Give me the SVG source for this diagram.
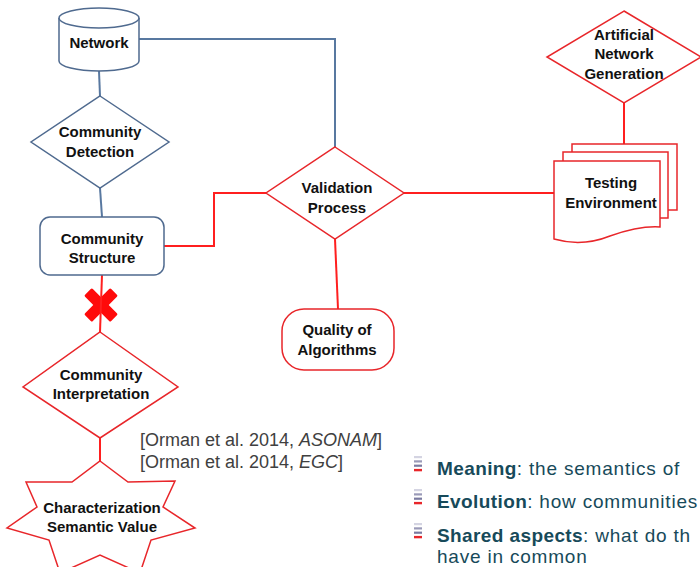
<svg xmlns="http://www.w3.org/2000/svg" width="700" height="567" viewBox="0 0 700 567">
  <style>
    .blue { fill: #ffffff; stroke: #4f6a8f; stroke-width: 1.5; }
    .red { fill: #ffffff; stroke: #e8262a; stroke-width: 1.5; }
    .wire-blue { fill: none; stroke: #5878a0; stroke-width: 2; }
    .wire-red { fill: none; stroke: #ff1f1f; stroke-width: 2; }
    .lbl { font-family: "Liberation Sans", Arial, sans-serif; font-weight: bold; font-size: 15px; fill: #111111; text-anchor: middle; }
    .cite { font-family: "Liberation Sans", Arial, sans-serif; font-size: 18px; fill: #404040; }
    .item { font-family: "Liberation Sans", Arial, sans-serif; font-size: 19px; letter-spacing: 0.8px; fill: #174a5a; }
    .item tspan.b { font-weight: bold; letter-spacing: 0.4px; }
  </style>
  <defs>
    <g id="bullet">
      <rect x="0" y="0" width="8" height="2.2" fill="#d4d4e2"/>
      <rect x="0" y="4.3" width="8" height="2.2" fill="#9a9ab8"/>
      <rect x="0" y="8.6" width="8" height="2.2" fill="#7a7aa0"/>
      <rect x="0" y="12.9" width="8" height="2.4" fill="#e8262a"/>
    </g>
  </defs>

  <!-- rejection mark on the structure -> interpretation link -->
  <g id="reject-mark" fill="#ff0a0a">
    <rect x="82.5" y="299.5" width="37" height="11" rx="1.5" transform="rotate(45 101 305)"/>
    <rect x="82.5" y="299.5" width="37" height="11" rx="1.5" transform="rotate(-45 101 305)"/>
  </g>

  <g id="connectors">
    <path class="wire-blue" d="M99,71 L100,96"/>
    <path class="wire-blue" d="M139,39 H335 V147"/>
    <path class="wire-blue" d="M100,188 L102,217"/>
    <path class="wire-red" d="M164,246 H214 V193 H266"/>
    <path class="wire-red" d="M404,193 H554"/>
    <path class="wire-red" d="M624,103 V144"/>
    <path class="wire-red" d="M335,239 L338,309"/>
    <path class="wire-red" d="M102,275 L100,332" stroke="#e01010"/>
    <path class="wire-red" d="M100,438 V461"/>
  </g>

  <g id="network">
    <path class="blue" d="M59,18 A40,10 0 0 1 139,18 L139,61 A40,10 0 0 1 59,61 Z"/>
    <path class="blue" d="M59,18 A40,10 0 0 0 139,18" fill="none"/>
    <text class="lbl" x="99" y="48">Network</text>
  </g>

  <g id="community-detection">
    <polygon class="blue" points="100,96 169,142 100,188 31,142"/>
    <text class="lbl" x="100" y="137">Community</text>
    <text class="lbl" x="100" y="157">Detection</text>
  </g>

  <g id="community-structure">
    <rect class="blue" x="40" y="217" width="124" height="58" rx="10"/>
    <text class="lbl" x="102" y="244">Community</text>
    <text class="lbl" x="102" y="263">Structure</text>
  </g>

  <g id="validation-process">
    <polygon class="red" points="335,147 404,193 335,239 266,193"/>
    <text class="lbl" x="337" y="193">Validation</text>
    <text class="lbl" x="337" y="213">Process</text>
  </g>

  <g id="artificial-network-generation">
    <polygon class="red" points="624,11 701,57 624,103 547,57"/>
    <text class="lbl" x="624" y="40">Artificial</text>
    <text class="lbl" x="624" y="59">Network</text>
    <text class="lbl" x="624" y="79">Generation</text>
  </g>

  <g id="testing-environment">
    <rect class="red" x="572" y="144" width="105" height="66"/>
    <rect class="red" x="563" y="152" width="105" height="66"/>
    <path class="red" d="M554,161 H660 V227 C645,226 630,229 610,236 C595,242 575,245 554,239 Z"/>
    <text class="lbl" x="611" y="188">Testing</text>
    <text class="lbl" x="611" y="208">Environment</text>
  </g>

  <g id="quality-of-algorithms">
    <rect class="red" x="282" y="309" width="112" height="61" rx="22"/>
    <text class="lbl" x="337" y="335">Quality of</text>
    <text class="lbl" x="337" y="355">Algorithms</text>
  </g>

  <g id="community-interpretation">
    <polygon class="red" points="100,332 178,387 100,438 23,387"/>
    <text class="lbl" x="101" y="380">Community</text>
    <text class="lbl" x="101" y="399">Interpretation</text>
  </g>

  <g id="characterization">
    <polygon class="red" points="100,461 128,482 175,481 163,507 195,528 151,540 140,573 100,555 60,573 49,540 7,528 37,507 26,482 72,482"/>
    <text class="lbl" x="102" y="513">Characterization</text>
    <text class="lbl" x="102" y="532">Semantic Value</text>
  </g>

  <g id="references">
    <text class="cite" x="140" y="446">[Orman et al. 2014, <tspan font-style="italic">ASONAM</tspan>]</text>
    <text class="cite" x="140" y="468">[Orman et al. 2014, <tspan font-style="italic">EGC</tspan>]</text>
  </g>

  <g id="aspects">
    <use href="#bullet" x="414" y="456"/>
    <use href="#bullet" x="414" y="489"/>
    <use href="#bullet" x="414" y="523"/>
    <text class="item" x="437" y="475"><tspan class="b">Meaning</tspan>: the semantics of</text>
    <text class="item" x="437" y="508"><tspan class="b">Evolution</tspan>: how communities</text>
    <text class="item" x="437" y="542"><tspan class="b">Shared aspects</tspan>: what do th</text>
    <text class="item" x="437" y="563">have in common</text>
  </g>
</svg>
